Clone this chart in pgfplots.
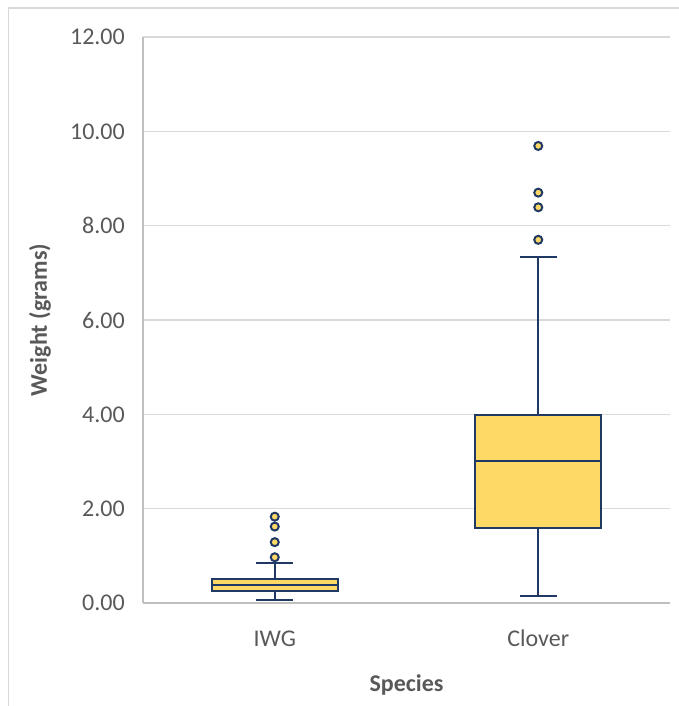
\documentclass[border=0pt]{standalone}
\usepackage{fontspec}
\setmainfont{Carlito}
\usepackage{pgfplots}
\usepgfplotslibrary{statistics}
\pgfplotsset{compat=1.18}
\definecolor{boxfill}{HTML}{FFD966}
\definecolor{navy}{HTML}{203864}
\definecolor{txt}{HTML}{595959}
\definecolor{gridc}{HTML}{D9D9D9}
\definecolor{axc}{HTML}{BFBFBF}
\begin{document}
\begin{tikzpicture}
\useasboundingbox (0pt,0pt) rectangle (679pt,706pt);
\draw[gridc, line width=1.2pt] (8.5pt,-5pt) -- (8.5pt,698pt) -- (690pt,698pt);
\begin{axis}[
  at={(143pt,103pt)}, anchor=south west,
  width=527pt, height=566pt, scale only axis,
  xmin=-0.5, xmax=1.5, ymin=0, ymax=12,
  ytick={0,2,4,6,8,10,12},
  xtick={0,1}, xticklabels={IWG,Clover},
  major tick length=0pt,
  axis x line*=bottom, axis y line*=left,
  axis line style={draw=axc, line width=2.6pt, -},
  ymajorgrids, major grid style={draw=gridc, line width=1.6pt},
  /pgf/number format/assume math mode=true,
  yticklabel={\pgfmathprintnumber[fixed,fixed zerofill,precision=2]{\tick}},
  every tick label/.append style={font=\fontsize{24}{28}\selectfont, text=txt},
  yticklabel style={anchor=east, inner sep=0pt, xshift=-18pt},
  xticklabel style={anchor=base, inner sep=0pt, yshift=-43pt},
  xlabel={\textbf{Species}},
  ylabel={\textbf{Weight (grams)}},
  label style={font=\fontsize{24}{28}\selectfont, text=txt, inner sep=0pt},
  xlabel style={at={(axis description cs:0.5,-0.1555)}, anchor=base},
  ylabel style={at={(axis description cs:-0.1954,0.5)}, anchor=center},
  clip=false,
  boxplot/draw direction=y,
  boxplot/every box/.style={draw=navy, fill=boxfill, line width=2pt},
  boxplot/every median/.style={draw=navy, line width=2pt},
  boxplot/every whisker/.style={draw=navy, line width=2pt},
]
\addplot[draw=navy, fill=boxfill, line width=2pt,
  mark=*, mark size=4pt, mark options={fill=boxfill, draw=navy, line width=2pt},
  boxplot prepared={draw position=0, lower whisker=0.06, lower quartile=0.26,
    median=0.375, upper quartile=0.51, upper whisker=0.84,
    box extend=0.48, whisker extend=0.14}]
  table[row sep=\\, y index=0] {data\\ 0.97\\ 1.29\\ 1.62\\ 1.83\\};
\addplot[draw=navy, fill=boxfill, line width=2pt,
  mark=*, mark size=4pt, mark options={fill=boxfill, draw=navy, line width=2pt},
  boxplot prepared={draw position=1, lower whisker=0.15, lower quartile=1.60,
    median=3.02, upper quartile=3.99, upper whisker=7.33,
    box extend=0.48, whisker extend=0.14}]
  table[row sep=\\, y index=0] {data\\ 7.70\\ 8.39\\ 8.70\\ 9.69\\};
\end{axis}
\end{tikzpicture}
\end{document}
